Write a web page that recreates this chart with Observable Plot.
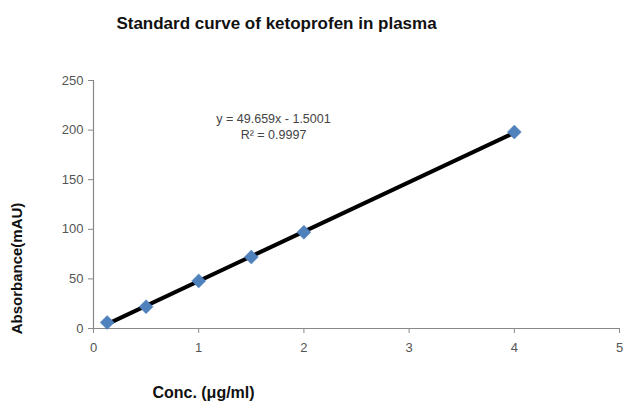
<!DOCTYPE html>
<html>
<head>
<meta charset="utf-8">
<script src="https://cdn.jsdelivr.net/npm/d3@7"></script>
<script src="https://cdn.jsdelivr.net/npm/@observablehq/plot@0.6"></script>
<style>
  html, body { margin: 0; padding: 0; background: #fff; }
  text.ylab { letter-spacing: 1.1px; }
</style>
</head>
<body>
<div id="chart"></div>
<script>
const conc = [0.13, 0.5, 1, 1.5, 2, 4];
const absorbance = [6, 22, 48, 72, 97, 198];
const xTicks = [0, 1, 2, 3, 4, 5];
const yTicks = [0, 50, 100, 150, 200, 250];
const titleText = "Standard curve of ketoprofen in plasma";
const xLabel = "Conc. (μg/ml)";
const yLabel = "Absorbance(mAU)";
const equationText = "y = 49.659x - 1.5001\nR² = 0.9997";

const data = conc.map((c, i) => ({conc: c, abs: absorbance[i]}));

const chart = Plot.plot({
  width: 624,
  height: 403,
  marginLeft: 93,
  marginRight: 5,
  marginTop: 80,
  marginBottom: 75,
  style: {fontFamily: "'Liberation Sans', Arial, sans-serif", background: "#fff", overflow: "visible"},
  x: {domain: [0, 5]},
  y: {domain: [0, 250]},
  marks: [
    Plot.axisX({ticks: xTicks, tickFormat: d3.format("d"), tickSize: 5, tickPadding: 9, fontSize: 13, color: "#555", stroke: "#888", label: null}),
    Plot.axisY({ticks: yTicks, tickFormat: d3.format("d"), tickSize: 5, tickPadding: 5, fontSize: 13, color: "#555", stroke: "#888", label: null}),
    Plot.ruleY([0], {stroke: "#888", strokeWidth: 1.2}),
    Plot.ruleX([0], {stroke: "#888", strokeWidth: 1.2}),
    Plot.linearRegressionY(data, {x: "conc", y: "abs", stroke: "#000", strokeWidth: 4, ci: 0}),
    Plot.dot(data, {x: "conc", y: "abs", symbol: "diamond2", r: 6.3, fill: "#4F81BD", stroke: "#4F81BD", strokeWidth: 0.5}),
    Plot.text([equationText], {frameAnchor: "top-left", dx: 180, dy: 45, textAnchor: "middle", lineAnchor: "middle", lineHeight: 1.3, fontSize: 12.5, fill: "#444"}),
    Plot.text([titleText], {frameAnchor: "top-left", dx: 183, dy: -57, textAnchor: "middle", lineAnchor: "middle", fontSize: 17, fontWeight: "bold", fill: "#111"}),
    Plot.text([xLabel], {frameAnchor: "bottom-left", dx: 110, dy: 64, textAnchor: "middle", lineAnchor: "middle", fontSize: 16, fontWeight: "bold", fill: "#111"}),
    Plot.text([yLabel], {frameAnchor: "left", dx: -76, dy: 64, rotate: -90, textAnchor: "middle", lineAnchor: "middle", fontSize: 15, fontWeight: "bold", fill: "#111", className: "ylab"})
  ]
});
document.getElementById("chart").appendChild(chart);
</script>
</body>
</html>
